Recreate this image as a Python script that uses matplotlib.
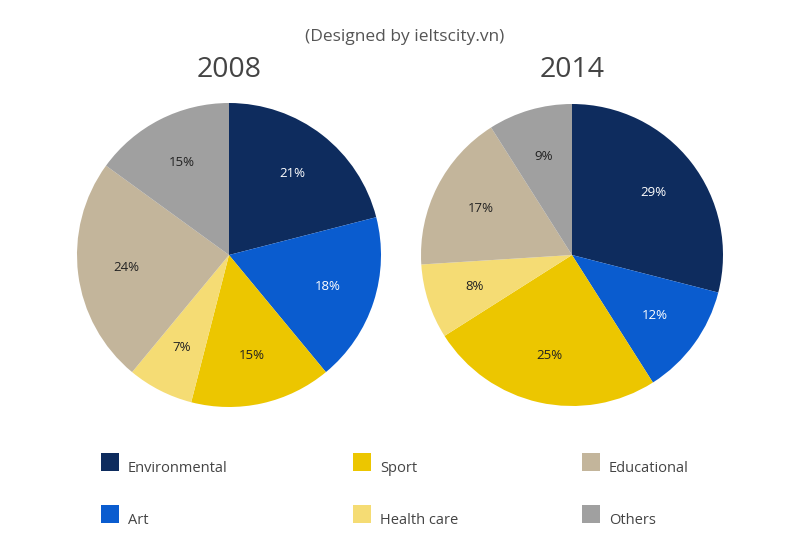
import matplotlib
matplotlib.use("Agg")
import matplotlib.pyplot as plt
from matplotlib.patches import Rectangle

categories = ["Environmental", "Art", "Sport", "Health care", "Educational", "Others"]
values_2008 = [21, 18, 15, 7, 24, 15]
values_2014 = [29, 12, 25, 8, 17, 9]
years = ["2008", "2014"]
colors = ["#0e2c5e", "#0a5ccf", "#ecc600", "#f5dc74", "#c3b59b", "#a0a0a0"]
label_colors = ["white", "white", "#222222", "#222222", "#222222", "#222222"]

plt.rcParams['font.family'] = ['Open Sans', 'DejaVu Sans']

W, H = 800, 555
fig = plt.figure(figsize=(W / 100, H / 100), dpi=100)
fig.patch.set_facecolor("white")

def add_pie(cx, cy, r, vals, title):
    ax = fig.add_axes([(cx - r) / W, 1 - (cy + r) / H, 2 * r / W, 2 * r / H])
    wedges, texts, autotexts = ax.pie(
        vals, colors=colors, startangle=90, counterclock=False,
        autopct=lambda p: f"{p:.0f}%", pctdistance=0.68, radius=1.0,
        wedgeprops=dict(linewidth=0))
    for t, c in zip(autotexts, label_colors):
        t.set_color(c)
        t.set_fontsize(9.5)
    ax.set_xlim(-1, 1)
    ax.set_ylim(-1, 1)
    ax.set_aspect("equal")
    ax.axis("off")
    fig.text(cx / W, 1 - 70 / H, title, ha="center", va="center",
             fontsize=20.5, color="#444444")

add_pie(229, 255, 152, values_2008, years[0])
add_pie(572, 255, 151, values_2014, years[1])

fig.text(405 / W, 1 - 37 / H, "(Designed by ieltscity.vn)", ha="center",
         va="center", fontsize=12.5, color="#555555")

col_x = [101, 353, 582]
row_y = [453, 505]
order = [(0, 0), (1, 0), (0, 1), (1, 1), (0, 2), (1, 2)]
for i, (row, col) in enumerate(order):
    x0 = col_x[col]
    y0 = row_y[row]
    fig.add_artist(Rectangle((x0 / W, 1 - (y0 + 18) / H), 18 / W, 18 / H,
                             transform=fig.transFigure, facecolor=colors[i],
                             edgecolor="none"))
    fig.text((x0 + 27) / W, 1 - (y0 + 16) / H, categories[i], ha="left",
             va="center", fontsize=10.5, color="#444444")

fig.savefig("out.png", dpi=100, facecolor="white")
